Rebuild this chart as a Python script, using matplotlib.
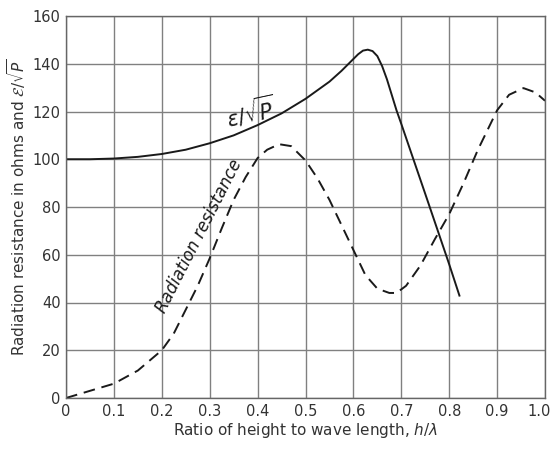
import matplotlib
matplotlib.use("Agg")
import matplotlib.pyplot as plt
import matplotlib.transforms as mtransforms

# Solid curve: E/sqrt(P)
h_solid = [0, 0.05, 0.1, 0.15, 0.2, 0.25, 0.3, 0.35, 0.4, 0.45, 0.5, 0.55, 0.575,
           0.6, 0.61, 0.62, 0.63, 0.64, 0.65, 0.66, 0.67, 0.68, 0.69, 0.7, 0.75,
           0.8, 0.822]
v_solid = [100, 100, 100.3, 101, 102.2, 104, 106.7, 110, 114.3, 119.2, 125.3,
           132.5, 137, 142, 144, 145.5, 145.9, 145.3, 143.2, 139, 133.5, 127,
           120.5, 114.8, 85.5, 56, 42.5]

# Dashed curve: radiation resistance
h_dash = [0, 0.05, 0.1, 0.15, 0.2, 0.225, 0.25, 0.275, 0.3, 0.325, 0.35, 0.375,
          0.4, 0.42, 0.445, 0.47, 0.5, 0.525, 0.55, 0.575, 0.6, 0.625, 0.65,
          0.675, 0.69, 0.71, 0.74, 0.77, 0.8, 0.83, 0.86, 0.9, 0.925, 0.955,
          0.98, 1.0]
v_dash = [0, 3, 6, 11.5, 20, 27, 37, 47, 58.5, 71, 83, 92.5, 100.5, 104, 106.3,
          105.5, 99.5, 92, 83, 72.5, 62, 51.5, 45.8, 44, 44, 47, 55.5, 66.5, 77,
          90, 104, 120.5, 127, 129.8, 128, 124.5]

x_ticks = [0, 0.1, 0.2, 0.3, 0.4, 0.5, 0.6, 0.7, 0.8, 0.9, 1.0]
x_tick_labels = ["0", "0.1", "0.2", "0.3", "0.4", "0.5", "0.6", "0.7", "0.8", "0.9", "1.0"]
y_ticks = [0, 20, 40, 60, 80, 100, 120, 140, 160]
y_tick_labels = ["0", "20", "40", "60", "80", "100", "120", "140", "160"]

fig = plt.figure(figsize=(5.51, 4.49), dpi=100)
ax = fig.add_axes([66/551, 1-398/449, (545-66)/551, (398-16)/449])

ax.plot(h_solid, v_solid, color="#1a1a1a", lw=1.4, solid_capstyle="butt")
ax.plot(h_dash, v_dash, color="#1a1a1a", lw=1.4, dashes=(6, 3.5))

ax.set_xlim(0, 1.0)
ax.set_ylim(0, 160)
ax.set_xticks(x_ticks)
ax.set_xticklabels(x_tick_labels)
ax.set_yticks(y_ticks)
ax.set_yticklabels(y_tick_labels)
ax.tick_params(length=0, labelsize=10.5, colors="#333333", pad=4)
ax.grid(True, color="#808080", lw=1.0)
ax.set_axisbelow(True)
for s in ax.spines.values():
    s.set_color("#666666")
    s.set_linewidth(1.0)

# keep the last x tick label inside the figure
last = ax.get_xticklabels()[-1]
last.set_transform(last.get_transform() +
                   mtransforms.ScaledTranslation(-6/100, 0, fig.dpi_scale_trans))

ax.set_xlabel(r"Ratio of height to wave length, $h/\lambda$", fontsize=11,
              color="#333333", labelpad=2)
ax.set_ylabel(r"Radiation resistance in ohms and $\mathcal{E}/\sqrt{P}$",
              fontsize=11, color="#333333", labelpad=3)

ax.text(0.385, 120, r"$\varepsilon/\sqrt{P}$", fontsize=15, rotation=12,
        ha="center", va="center", color="#1a1a1a")
ax.text(0.278, 68, "Radiation resistance", fontsize=12, style="italic",
        rotation=63, ha="center", va="center", color="#1a1a1a",
        rotation_mode="anchor")

fig.savefig("out.png", dpi=100)
